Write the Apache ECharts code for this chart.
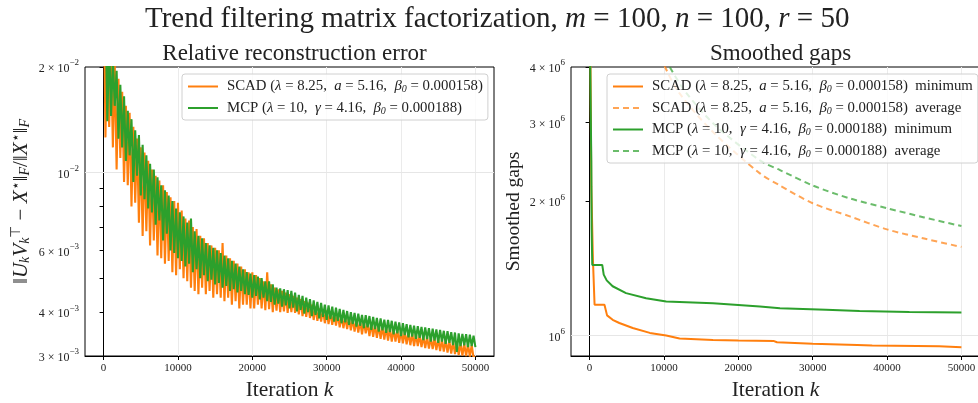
<!DOCTYPE html>
<html>
<head>
<meta charset="utf-8">
<script src="https://cdn.jsdelivr.net/npm/echarts@6/dist/echarts.min.js"></script>
<style>
html,body{margin:0;padding:0;background:#fff;}
#main{width:978px;height:403px;}
</style>
</head>
<body>
<div id="main"></div>
<script>
// relative reconstruction error, one sample every 250 iterations (4 per row = 1000 its)
var errStep = 250;
var scadErr = [
  0.040, 0.0126, 0.025, 0.0135,
  0.022, 0.0118, 0.0205, 0.0102,
  0.0185, 0.0110, 0.0170, 0.0094,
  0.0155, 0.0092, 0.0148, 0.0080,
  0.0135, 0.0082, 0.0125, 0.0072,
  0.0118, 0.0066, 0.0114, 0.0068,
  0.0108, 0.0062, 0.0102, 0.0064,
  0.0098, 0.0058, 0.0095, 0.0057,
  0.0092, 0.0055, 0.0088, 0.0056,
  0.0085, 0.0052, 0.0083, 0.0051,
  0.0082, 0.0053, 0.0078, 0.0050,
  0.0074, 0.0049, 0.0073, 0.0047,
  0.0070, 0.0046, 0.0069, 0.0045,
  0.0066, 0.0047, 0.0065, 0.0045,
  0.0063, 0.0046, 0.0062, 0.0044,
  0.0061, 0.0045, 0.0060, 0.0044,
  0.0063, 0.0043, 0.0058, 0.0044,
  0.0057, 0.0042, 0.0056, 0.0043,
  0.0055, 0.0041, 0.0054, 0.0042,
  0.0053, 0.0042, 0.0052, 0.0041,
  0.0052, 0.0041, 0.0051, 0.0042,
  0.0050, 0.0041, 0.0049, 0.00405,
  0.0052, 0.00408, 0.0048, 0.0040,
  0.0047, 0.00404, 0.00465, 0.0040,
  0.0046, 0.00402, 0.00455, 0.00398,
  0.0045, 0.0040, 0.00445, 0.00398,
  0.0044, 0.00394, 0.00436, 0.0039,
  0.0043, 0.00388, 0.00426, 0.00385,
  0.0042, 0.0038, 0.00415, 0.00378,
  0.0041, 0.00376, 0.00408, 0.00372,
  0.00405, 0.0037, 0.0040, 0.00368,
  0.00398, 0.00366, 0.00395, 0.00362,
  0.00392, 0.0036, 0.00388, 0.00358,
  0.00386, 0.00355, 0.00383, 0.00352,
  0.0038, 0.0035, 0.00378, 0.00346,
  0.00376, 0.00348, 0.00373, 0.00342,
  0.00372, 0.0034, 0.00368, 0.00338,
  0.00367, 0.00336, 0.00364, 0.00334,
  0.00362, 0.00332, 0.0036, 0.0033,
  0.00358, 0.0033, 0.00356, 0.00327,
  0.00354, 0.00326, 0.00352, 0.00324,
  0.0035, 0.00322, 0.00348, 0.0032,
  0.00346, 0.0032, 0.00344, 0.00318,
  0.00342, 0.00316, 0.0034, 0.00315,
  0.00339, 0.00314, 0.00337, 0.00312,
  0.00336, 0.0031, 0.00334, 0.00309,
  0.00333, 0.00307, 0.00331, 0.00305,
  0.0033, 0.00304, 0.00328, 0.00302,
  0.00327, 0.00301, 0.00325, 0.0030,
  0.00324, 0.00299, 0.00322, 0.00297,
  0.00298
];
var mcpErr = [
  0.040, 0.030, 0.0140, 0.024,
  0.0145, 0.021, 0.0155, 0.0195,
  0.0125, 0.0178, 0.0118, 0.0165,
  0.0108, 0.0150, 0.0112, 0.0142,
  0.0094, 0.0132, 0.0098, 0.0128,
  0.0086, 0.0120, 0.0084, 0.0112,
  0.0079, 0.0106, 0.0077, 0.0102,
  0.0071, 0.0097, 0.0073, 0.0092,
  0.0064, 0.0089, 0.0067, 0.0086,
  0.0060, 0.0083, 0.0059, 0.0079,
  0.0057, 0.0077, 0.0056, 0.0075,
  0.0054, 0.0072, 0.0055, 0.0074,
  0.0052, 0.0068, 0.0053, 0.0066,
  0.0050, 0.0065, 0.0051, 0.0063,
  0.0049, 0.0062, 0.00495, 0.0061,
  0.0048, 0.0060, 0.00485, 0.0059,
  0.0047, 0.0058, 0.00475, 0.0057,
  0.0046, 0.0056, 0.00465, 0.0055,
  0.00455, 0.0054, 0.0046, 0.0053,
  0.0045, 0.0052, 0.00448, 0.00515,
  0.0044, 0.0051, 0.00445, 0.00505,
  0.00435, 0.0050, 0.0044, 0.0049,
  0.0043, 0.0049, 0.00428, 0.0048,
  0.0042, 0.0047, 0.00423, 0.00468,
  0.00415, 0.00465, 0.00418, 0.00462,
  0.0041, 0.0046, 0.00412, 0.00455,
  0.00402, 0.00448, 0.00406, 0.00445,
  0.00396, 0.0044, 0.0040, 0.00436,
  0.0039, 0.00432, 0.00393, 0.00428,
  0.00384, 0.00425, 0.00388, 0.0042,
  0.0038, 0.00418, 0.00383, 0.00415,
  0.00376, 0.00412, 0.00378, 0.00409,
  0.00372, 0.00406, 0.00374, 0.00403,
  0.00368, 0.0040, 0.0037, 0.00398,
  0.00364, 0.00396, 0.00366, 0.00393,
  0.0036, 0.00392, 0.00362, 0.0039,
  0.00356, 0.00388, 0.00358, 0.00385,
  0.00352, 0.00384, 0.00355, 0.00381,
  0.00349, 0.0038, 0.00351, 0.00378,
  0.00346, 0.00376, 0.00348, 0.00374,
  0.00342, 0.00372, 0.00344, 0.0037,
  0.00339, 0.00368, 0.00341, 0.00366,
  0.00336, 0.00365, 0.00338, 0.00363,
  0.00333, 0.00362, 0.00335, 0.0036,
  0.0033, 0.00359, 0.00332, 0.00357,
  0.00327, 0.00356, 0.0033, 0.00354,
  0.00325, 0.00353, 0.00327, 0.00351,
  0.00322, 0.0035, 0.00308, 0.00348,
  0.0032, 0.00347, 0.00322, 0.00346,
  0.00318, 0.00345, 0.0032, 0.00343,
  0.00318
];

// smoothed gaps, [iteration, gap]
var scadMin = [[0,1.5e7],[100,4.5e6],[230,2.16e6],[450,1.48e6],[670,1.172e6],[2000,1.172e6],
  [2350,1.11e6],[3100,1.085e6],[4000,1.067e6],[5800,1.04e6],[8100,1.014e6],[10300,1.0e6],
  [12100,9.85e5],[16600,9.78e5],[20000,9.75e5],[24800,9.72e5],[25200,9.66e5],[30000,9.59e5],
  [36000,9.53e5],[38000,9.5e5],[47000,9.47e5],[50000,9.42e5]];
var scadAvg = [[7500,5.1e6],[10150,4.0e6],[12100,3.49e6],[16600,2.86e6],[22900,2.31e6],
  [25600,2.17e6],[30000,1.98e6],[35000,1.85e6],[40000,1.73e6],[45000,1.65e6],[50000,1.58e6]];
var mcpMin = [[0,1.5e7],[90,4.0e6],[230,2.47e6],[270,1.75e6],[360,1.44e6],[1700,1.44e6],
  [1900,1.37e6],[2300,1.33e6],[3100,1.29e6],[4900,1.245e6],[7600,1.213e6],[10300,1.192e6],
  [16600,1.182e6],[22900,1.162e6],[25600,1.151e6],[31800,1.143e6],[36300,1.135e6],
  [43000,1.129e6],[50000,1.127e6]];
var mcpAvg = [[7500,5.0e6],[10770,4.0e6],[13000,3.5e6],[17000,2.95e6],[22900,2.47e6],
  [25600,2.35e6],[30000,2.17e6],[35000,2.03e6],[40000,1.93e6],[45000,1.84e6],[50000,1.76e6]];

// ticks
var iterTicks = [0, 10000, 20000, 30000, 40000, 50000];
var errTicks = [0.003, 0.004, 0.005, 0.006, 0.007, 0.008, 0.009, 0.01, 0.02];
var errLabels = [0.003, 0.004, 0.006, 0.01, 0.02];
var errRange = [0.003, 0.02];
var gapTicks = [1e6, 2e6, 3e6, 4e6];
var gapRange = [9.0e5, 4e6];

var orange = '#ff7f0e', green = '#2ca02c';
var FONT = 'Liberation Serif';
var scadName = 'SCAD (λ = 8.25, a = 5.16, β0 = 0.000158)';
var mcpName = 'MCP (λ = 10, γ = 4.16, β0 = 0.000188)';

function lg(v){ return Math.log10(v); }
function toLog(pts){ return pts.map(function(p){ return [p[0], lg(p[1])]; }); }
function errPts(arr){ return arr.map(function(v, i){ return [i * errStep, lg(v)]; }); }

function sciLabel(l){
  var e = Math.floor(l + 1e-9);
  var m = Math.round(Math.pow(10, l - e));
  var es = (e < 0 ? '−' : '') + Math.abs(e);
  return m === 1 ? '{b|10}{e|' + es + '}' : '{b|' + m + ' × 10}{e|' + es + '}';
}

function legendText(name){
  var s = name.indexOf('SCAD') === 0
    ? 'SCAD ({i|λ} = 8.25,  {i|a} = 5.16,  {i|β}{s|0} = 0.000158)'
    : 'MCP ({i|λ} = 10,  {i|γ} = 4.16,  {i|β}{s|0} = 0.000188)';
  if (/minimum$/.test(name)) s += '  minimum';
  if (/average$/.test(name)) s += '  average';
  return s;
}

var tickRich = {
  b: {fontFamily: FONT, fontSize: 12, color: '#222', padding: [4, 0, 0, 0]},
  e: {fontFamily: FONT, fontSize: 9, color: '#222', padding: [0, 0, 8, 0]}
};
var LEG = 14.8;
var legRich = {
  i: {fontFamily: FONT, fontSize: LEG, fontStyle: 'italic', color: '#222'},
  s: {fontFamily: FONT, fontSize: 10, fontStyle: 'italic', color: '#222', padding: [6, 0, 0, 0]}
};

function xAxisOf(gi){
  return {
    type: 'value', gridIndex: gi, min: -2500, max: 52500,
    name: 'Iteration {i|k}', nameLocation: 'middle', nameGap: 23,
    nameTextStyle: {fontFamily: FONT, fontSize: 21.5, color: '#222',
      rich: {i: {fontFamily: FONT, fontSize: 21.5, fontStyle: 'italic', color: '#222'}}},
    axisLine: {lineStyle: {color: '#000', width: 1}},
    axisTick: {length: 4, lineStyle: {color: '#000'}, customValues: iterTicks},
    axisLabel: {fontFamily: FONT, fontSize: 11, color: '#222', margin: 7, customValues: iterTicks,
      formatter: function(v){ return String(v); }},
    splitLine: {show: true, lineStyle: {color: '#ebebeb', width: 1}}
  };
}

function gridLine(v){
  return {silent: true, symbol: 'none', z: 1, label: {show: false},
    lineStyle: {color: '#e6e6e6', width: 1, type: 'solid'}, data: [{yAxis: v}]};
}

function legendOf(names, left, gap){
  return {
    data: names, orient: 'vertical', left: left, top: 74,
    itemWidth: 30, itemHeight: 12, itemGap: gap,
    padding: [5, 5, 4, 5], backgroundColor: 'rgba(255,255,255,0.8)',
    borderColor: '#d0d0d0', borderWidth: 1, borderRadius: 3,
    itemStyle: {opacity: 0},
    formatter: legendText,
    textStyle: {fontFamily: FONT, fontSize: LEG, color: '#222', padding: [0, 0, 0, 4], rich: legRich}
  };
}

var chart = echarts.init(document.getElementById('main'), null, {renderer: 'canvas'});
chart.setOption({
  animation: false,
  backgroundColor: '#fff',
  title: [{
    text: 'Trend filtering matrix factorization, {i|m} = 100, {i|n} = 100, {i|r} = 50',
    left: 140, top: 0,
    textStyle: {fontFamily: FONT, fontSize: 29, fontWeight: 'normal', color: '#222',
      rich: {i: {fontFamily: FONT, fontSize: 29, fontStyle: 'italic', color: '#222'}}}
  }, {
    text: 'Relative reconstruction error', left: 289.5, textAlign: 'center', top: 37,
    textStyle: {fontFamily: FONT, fontSize: 23, fontWeight: 'normal', color: '#222'}
  }, {
    text: 'Smoothed gaps', left: 775.5, textAlign: 'center', top: 37,
    textStyle: {fontFamily: FONT, fontSize: 23, fontWeight: 'normal', color: '#222'}
  }],
  legend: [
    legendOf([scadName, mcpName], 182, 6),
    legendOf([scadName + ' minimum', scadName + ' average', mcpName + ' minimum', mcpName + ' average'], 607, 6)
  ],
  grid: [
    {left: 85, top: 67, width: 409, height: 289, show: true, borderColor: '#000', borderWidth: 1,
      outerBoundsMode: 'none', containLabel: false},
    {left: 571, top: 67, width: 409, height: 289, show: true, borderColor: '#000', borderWidth: 1,
      outerBoundsMode: 'none', containLabel: false}
  ],
  xAxis: [xAxisOf(0), xAxisOf(1)],
  yAxis: [{
    type: 'value', gridIndex: 0, min: lg(errRange[0]), max: lg(errRange[1]),
    name: '‖{i|U}{s|k}{i|V}{s|k}{u|⊤} − {i|X}{u|⋆}‖{s|F}/‖{i|X}{u|⋆}‖{s|F}',
    nameLocation: 'middle', nameRotate: 90, nameGap: 52,
    nameTextStyle: {fontFamily: FONT, fontSize: 21, color: '#222', padding: [0, 0, 0, 20], rich: {
      i: {fontFamily: FONT, fontSize: 21, fontStyle: 'italic', color: '#222'},
      s: {fontFamily: FONT, fontSize: 14, fontStyle: 'italic', color: '#222', padding: [9, 0, 0, 0]},
      u: {fontFamily: FONT, fontSize: 14, color: '#222', padding: [0, 0, 10, 0]}
    }},
    axisLine: {show: true, lineStyle: {color: '#000', width: 1}},
    axisTick: {show: true, length: 4, lineStyle: {color: '#000'}, customValues: errTicks.map(lg)},
    axisLabel: {margin: 6, customValues: errLabels.map(lg), formatter: sciLabel, rich: tickRich},
    splitLine: {show: false}
  }, {
    type: 'value', gridIndex: 1, min: lg(gapRange[0]), max: lg(gapRange[1]),
    name: 'Smoothed gaps', nameLocation: 'middle', nameRotate: 90, nameGap: 47,
    nameTextStyle: {fontFamily: FONT, fontSize: 19.5, color: '#222'},
    axisLine: {show: true, lineStyle: {color: '#000', width: 1}},
    axisTick: {show: true, length: 4, lineStyle: {color: '#000'}, customValues: gapTicks.map(lg)},
    axisLabel: {margin: 6, customValues: gapTicks.map(lg), formatter: sciLabel, rich: tickRich},
    splitLine: {show: false}
  }],
  series: [{
    name: scadName, type: 'line', xAxisIndex: 0, yAxisIndex: 0,
    data: errPts(scadErr), showSymbol: false, symbol: 'none', z: 2,
    lineStyle: {color: orange, width: 2.1}, itemStyle: {color: orange},
    markLine: gridLine(-2)
  }, {
    name: mcpName, type: 'line', xAxisIndex: 0, yAxisIndex: 0,
    data: errPts(mcpErr), showSymbol: false, symbol: 'none', z: 3,
    lineStyle: {color: green, width: 2.1}, itemStyle: {color: green}
  }, {
    name: scadName + ' minimum', type: 'line', xAxisIndex: 1, yAxisIndex: 1,
    data: toLog(scadMin), showSymbol: false, symbol: 'none',
    lineStyle: {color: orange, width: 2}, itemStyle: {color: orange},
    markLine: gridLine(6)
  }, {
    name: scadName + ' average', type: 'line', xAxisIndex: 1, yAxisIndex: 1,
    data: toLog(scadAvg), showSymbol: false, symbol: 'none', smooth: 0.3,
    lineStyle: {color: orange, width: 2, type: [6, 4], opacity: 0.7}, itemStyle: {color: orange, opacity: 0.7}
  }, {
    name: mcpName + ' minimum', type: 'line', xAxisIndex: 1, yAxisIndex: 1,
    data: toLog(mcpMin), showSymbol: false, symbol: 'none',
    lineStyle: {color: green, width: 2}, itemStyle: {color: green}
  }, {
    name: mcpName + ' average', type: 'line', xAxisIndex: 1, yAxisIndex: 1,
    data: toLog(mcpAvg), showSymbol: false, symbol: 'none', smooth: 0.3,
    lineStyle: {color: green, width: 2, type: [6, 4], opacity: 0.7}, itemStyle: {color: green, opacity: 0.7}
  }]
});
</script>
</body>
</html>
